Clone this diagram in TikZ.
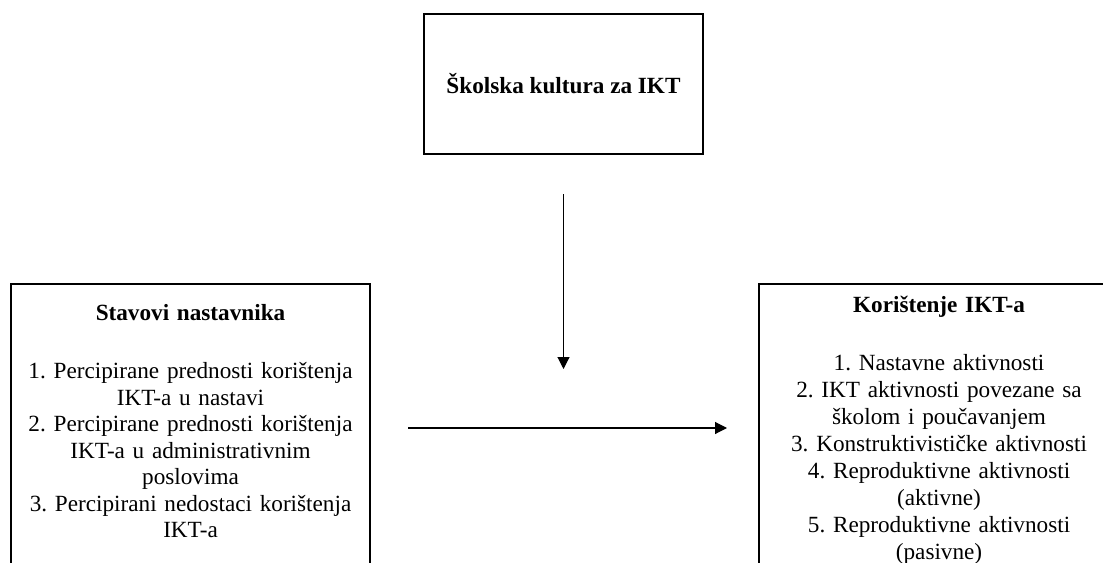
\documentclass[tikz,border=0pt]{standalone}
\usepackage{fontspec}
\setmainfont{Liberation Serif}
\usetikzlibrary{arrows.meta}
\frenchspacing

\begin{document}
\begin{tikzpicture}[x=0.025cm, y=-0.025cm,
        okvir/.style={draw, line width=1.4pt, inner sep=0pt, align=center,
            font=\fontsize{16.5pt}{19.2pt}\selectfont},
        strelica/.style={line width=0.8pt, -{Triangle[length=8.5pt,width=8.5pt]}}]
    \useasboundingbox (0,0) rectangle (1103,563);
    \clip (0,0) rectangle (1103,563); % slika je odrezana dolje i desno
    \node[okvir, minimum width=6.975cm, minimum height=3.5cm] (kultura) at (563.5,84)
        {\textbf{Školska kultura za IKT}};
    \node[okvir, anchor=north west, text width=8.975cm, text height=26pt, text depth=8cm,
            font=\fontsize{16.5pt}{18.9pt}\selectfont] (stavovi) at (10,283)
        {\textbf{Stavovi nastavnika}\\[22.3pt]
         1. Percipirane prednosti korištenja\\
         IKT-a u nastavi\\
         2. Percipirane prednosti korištenja\\
         IKT-a u administrativnim\\
         poslovima\\
         3. Percipirani nedostaci korištenja\\
         IKT-a};
    \node[okvir, anchor=north west, text width=9cm, text height=20pt, text depth=8cm] (koristenje) at (758,283)
        {\textbf{Korištenje IKT-a}\\[22pt]
         1. Nastavne aktivnosti\\
         2. IKT aktivnosti povezane sa\\
         školom i poučavanjem\\
         3. Konstruktivističke aktivnosti\\
         4. Reproduktivne aktivnosti\\
         (aktivne)\\
         5. Reproduktivne aktivnosti\\
         (pasivne)};
    \coordinate (spoj) at (565,428);
    \coordinate (cilj) at (563.5,369);
    \draw[strelica, shorten <=0.925cm, shorten >=0.775cm] (stavovi.east |- spoj) -- (koristenje.west |- spoj);
    \draw[strelica, shorten <=0.975cm] (kultura.south) -- (cilj);
\end{tikzpicture}
\end{document}
